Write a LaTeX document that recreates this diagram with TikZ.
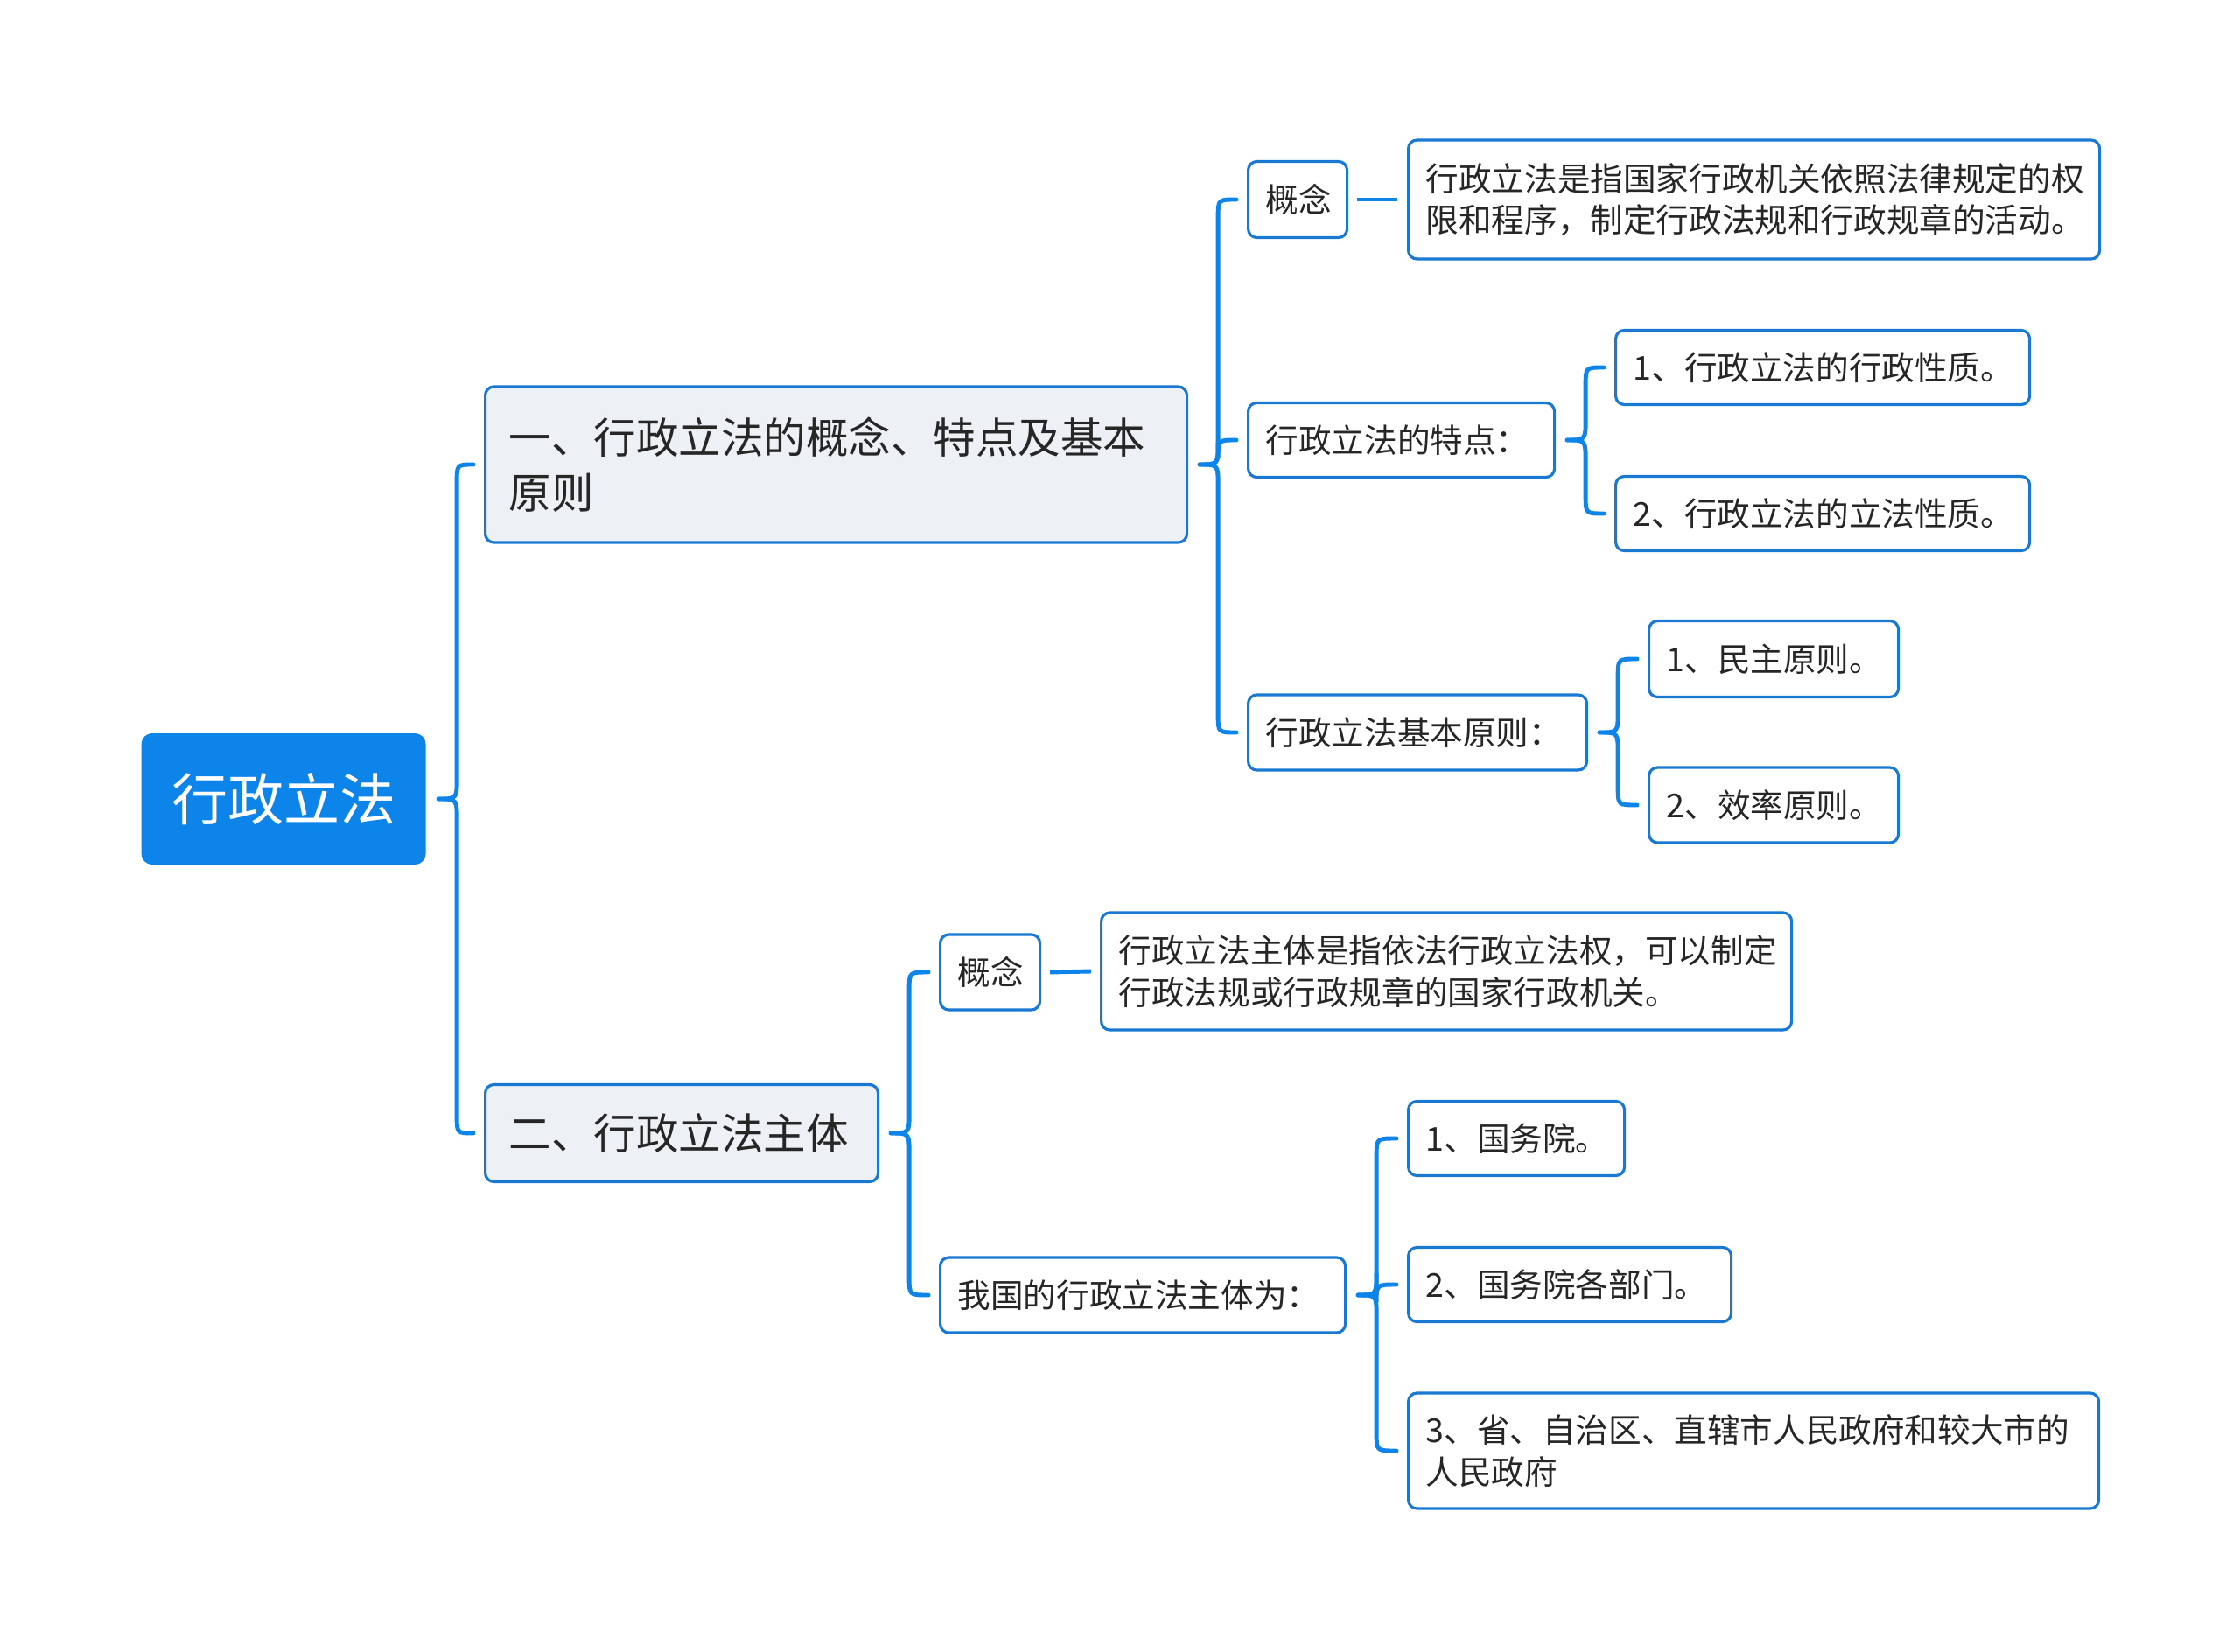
\documentclass[tikz,border=0pt]{standalone}
\usepackage{fontspec}
\setmainfont{Noto Sans CJK SC}
\usetikzlibrary{calc}
\definecolor{mapblue}{RGB}{12,132,234}
\definecolor{edge}{RGB}{24,120,210}
\definecolor{topicfill}{RGB}{237,241,245}
\definecolor{ink}{RGB}{38,38,38}

\begin{document}
\begin{tikzpicture}[
  box/.style={draw=edge, line width=0.9pt, rounded corners=2.8pt, fill=white, text=ink,
              anchor=west, align=left, inner xsep=0.2cm, inner ysep=0pt},
  root/.style={box, draw=none, fill=mapblue, text=white, align=center, rounded corners=3.5pt,
               font=\fontsize{18.2}{22}\selectfont},
  topic/.style={box, fill=topicfill, inner xsep=0.27cm, font=\fontsize{13.8}{18.1}\selectfont},
  leaf/.style={box, font=\fontsize{10.7}{13.5}\selectfont},
  ln/.style={draw=mapblue, line width=1.4pt},
  brk/.style={ln, line cap=round, to path={
    let \p1=(\tikztostart), \p2=(\tikztotarget), \n1={ifthenelse(\y2>\y1,1,-1)} in
    (\x1+0.13cm,\y1) .. controls (\x1+0.34cm,\y1) .. (\x1+0.34cm,\y1+\n1*0.25cm)
    -- (\x1+0.34cm,\y2-\n1*0.2cm) .. controls (\x1+0.34cm,\y2) .. (\x2-0.12cm,\y2)}},
]
\useasboundingbox (0,0) rectangle (25.6,-18.88);

% centre
\node[root, minimum width=3.25cm, minimum height=1.5cm] (root) at (1.60,-9.13) {行政立法};

% main topics
\node[topic, text width=7.48cm, minimum height=1.78cm] (b1) at (5.53,-5.31)
  {一、行政立法的概念、特点及基本\\原则};
\node[topic, text width=3.95cm, minimum height=1.11cm] (b2) at (5.53,-12.95) {二、行政立法主体};

% branch one
\node[leaf, text width=0.73cm, minimum height=0.87cm] (gn1) at (14.25,-2.28) {概念};
\node[leaf, text width=7.50cm, minimum height=1.36cm] (gd1) at (16.08,-2.28)
  {行政立法是指国家行政机关依照法律规定的权\\限和程序，制定行政法规和行政规章的活动。};
\node[leaf, text width=3.10cm, minimum height=0.85cm] (td) at (14.25,-5.03) {行政立法的特点：};
\node[leaf, text width=4.33cm, minimum height=0.85cm] (td1) at (18.45,-4.20) {1、行政立法的行政性质。};
\node[leaf, text width=4.33cm, minimum height=0.85cm] (td2) at (18.45,-5.87) {2、行政立法的立法性质。};
\node[leaf, text width=3.47cm, minimum height=0.86cm] (yz) at (14.25,-8.37) {行政立法基本原则：};
\node[leaf, text width=2.45cm, minimum height=0.87cm] (yz1) at (18.83,-7.53) {1、民主原则。};
\node[leaf, text width=2.45cm, minimum height=0.86cm] (yz2) at (18.83,-9.20) {2、效率原则。};

% branch two
\node[leaf, text width=0.74cm, minimum height=0.86cm] (gn2) at (10.73,-11.11) {概念};
\node[leaf, text width=7.49cm, minimum height=1.34cm] (gd2) at (12.57,-11.10)
  {行政立法主体是指依法行政立法权，可以制定\\行政法规或行政规章的国家行政机关。};
\node[leaf, text width=4.23cm, minimum height=0.86cm] (zt) at (10.73,-14.80) {我国的行政立法主体为：};
\node[leaf, text width=2.07cm, minimum height=0.85cm] (zt1) at (16.08,-13.01) {1、国务院。};
\node[leaf, text width=3.29cm, minimum height=0.85cm] (zt2) at (16.08,-14.68) {2、国务院各部门。};
\node[leaf, text width=7.49cm, minimum height=1.32cm] (zt3) at (16.08,-16.58)
  {3、省、自治区、直辖市人民政府和较大市的\\人民政府};

% brackets
\draw[brk] (root.east) to (b1.west);
\draw[brk] (root.east) to (b2.west);
\draw[brk] (b1.east) to (gn1.west);
\draw[brk] (b1.east) to (yz.west);
\draw[brk] (b1.east) to (td.west);
\draw[brk] (td.east) to (td1.west);
\draw[brk] (td.east) to (td2.west);
\draw[brk] (yz.east) to (yz1.west);
\draw[brk] (yz.east) to (yz2.west);
\draw[brk] (b2.east) to (gn2.west);
\draw[brk] (b2.east) to (zt.west);
\draw[brk] (zt.east) to (zt1.west);
\draw[brk] (zt.east) to (zt3.west);
\draw[brk] (zt.east) to (zt2.west);

% single links
\draw[ln] ([xshift=0.1cm]gn1.east) -- ([xshift=-0.11cm]gd1.west);
\draw[ln] ([xshift=0.1cm]gn2.east) -- ([xshift=-0.1cm]gd2.west);
\end{tikzpicture}
\end{document}
